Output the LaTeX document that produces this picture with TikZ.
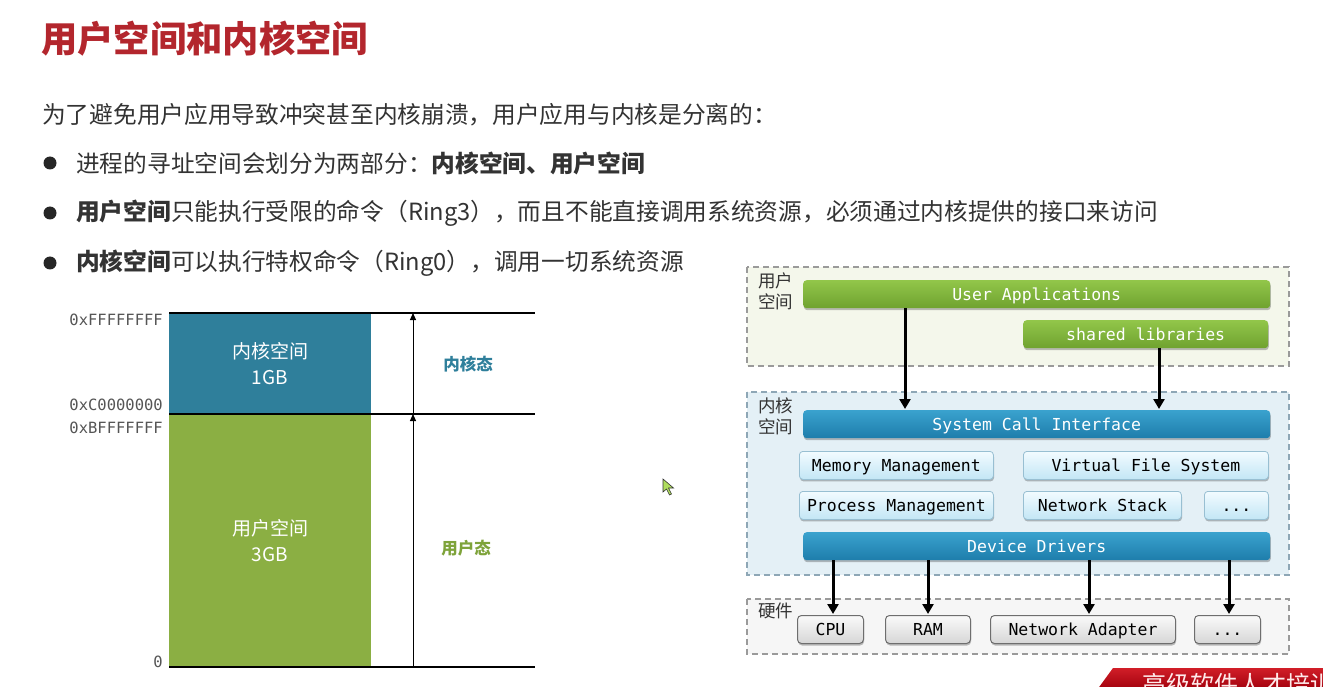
\documentclass[tikz,border=0pt]{standalone}
\usepackage{fontspec}
\setmainfont{Noto Sans CJK SC}
\newfontfamily\monofont{DejaVu Sans Mono}
\usetikzlibrary{arrows.meta,shadows}

\definecolor{titlered}{HTML}{B3262D}
\definecolor{bodytext}{HTML}{333333}
\definecolor{kteal}{HTML}{2F7F9B}
\definecolor{ugreen}{HTML}{8BAF43}
\definecolor{ulabel}{HTML}{7EA33A}
\definecolor{addrgray}{HTML}{555555}
\definecolor{userfill}{HTML}{F4F7EB}
\definecolor{kernfill}{HTML}{E4F0F6}
\definecolor{hwfill}{HTML}{F6F6F6}
\definecolor{dashgray}{HTML}{9A9A9A}
\definecolor{dashblue}{HTML}{8EA7B6}
\definecolor{gbarTop}{HTML}{92C64A}
\definecolor{gbarBot}{HTML}{6FA22F}
\definecolor{bbarTop}{HTML}{3AA2CE}
\definecolor{bbarBot}{HTML}{1E7DAB}
\definecolor{lbTop}{HTML}{F2FBFF}
\definecolor{lbBot}{HTML}{C3E6F5}
\definecolor{lbEdge}{HTML}{98BFD2}
\definecolor{grTop}{HTML}{FAFAFA}
\definecolor{grBot}{HTML}{D6D6D6}
\definecolor{grEdge}{HTML}{6E6E6E}
\definecolor{bannerTop}{HTML}{D11E28}
\definecolor{bannerBot}{HTML}{A0000C}

\tikzset{
  body/.style={inner sep=0pt, text=bodytext, font=\fontsize{23.7}{28}\selectfont},
  addr/.style={inner sep=0pt, anchor=east, text=addrgray, font=\monofont\fontsize{15.5}{16}\selectfont},
  blocktext/.style={inner sep=0pt, text=white, font=\fontsize{19}{22}\selectfont},
  region/.style={dashed, dash pattern=on 6pt off 4pt, line width=1.3pt},
  sidelabel/.style={inner sep=0pt, anchor=north west, align=left, text=bodytext,
    font=\fontsize{17.5}{21}\selectfont},
  softshadow/.style={drop shadow={shadow xshift=0.6pt, shadow yshift=-2pt, opacity=0.25, fill=black}},
  monolabel/.style={inner sep=0pt, text height=12pt, text depth=0pt,
    font=\monofont\fontsize{16.5}{17}\selectfont},
  greenbar/.style={monolabel, softshadow, rounded corners=3.5pt, top color=gbarTop, bottom color=gbarBot,
    anchor=north west, text=white},
  bluebar/.style={monolabel, softshadow, rounded corners=3.5pt, top color=bbarTop, bottom color=bbarBot,
    anchor=north west, text=white},
  lightbox/.style={monolabel, softshadow, rounded corners=3.5pt, top color=lbTop, bottom color=lbBot,
    draw=lbEdge, line width=0.8pt, anchor=north west, text=black},
  graybox/.style={monolabel, softshadow, rounded corners=4pt, top color=grTop, bottom color=grBot,
    draw=grEdge, line width=1pt, anchor=north west, text=black},
  callarrow/.style={line width=3pt, -{Triangle[width=11pt,length=10pt]}},
  spanarrow/.style={line width=1pt, -{Triangle[width=6pt,length=7pt]}},
  boundary/.style={line width=2pt, black}
}

\begin{document}
\begin{tikzpicture}[x=1pt,y=-1pt]
\useasboundingbox (0,0) rectangle (1323,687);
\clip (0,0) rectangle (1323,687);
\fill[white] (0,0) rectangle (1323,687);

% ---------- heading and bullet text ----------
\node[anchor=west, inner sep=0pt, text=titlered, font=\bfseries\fontsize{36.3}{40}\selectfont]
  (title) at (41,39) {用户空间和内核空间};

\node[body, anchor=west] (intro) at (42,115)
  {为了避免用户应用导致冲突甚至内核崩溃，用户应用与内核是分离的：};

\foreach \yy/\nm in {163/b1, 213/b2, 263/b3}
  \fill[black!85] (50,\yy) circle[radius=6.5] coordinate (\nm);

\node[body, anchor=west] (l1) at (76,163)
  {进程的寻址空间会划分为两部分：\textbf{内核空间、用户空间}};
\node[body, anchor=west] (l2) at (76,213)
  {\textbf{用户空间}只能执行受限的命令（Ring3），而且不能直接调用系统资源，必须通过内核提供的接口来访问};
\node[body, anchor=west] (l3) at (76,263)
  {\textbf{内核空间}可以执行特权命令（Ring0），调用一切系统资源};

% ---------- address space split ----------
\fill[kteal] (169,313) rectangle (371,414);
\fill[ugreen] (169,414) rectangle (371,667);
\draw[boundary] (169,313) coordinate (top) -- (535,313);
\draw[boundary] (169,414) coordinate (mid) -- (535,414);
\draw[boundary] (169,667) coordinate (bot) -- (535,667);

\node[blocktext] (ktext) at (270,351) {内核空间};
\node[blocktext] (kgb) at (270,378) {1GB};
\node[blocktext] (utext) at (270,528) {用户空间};
\node[blocktext] (ugb) at (270,555) {3GB};

\coordinate (ktop) at (413,313);
\coordinate (kmid) at (413,414);
\coordinate (kbot) at (413,667);
\draw[spanarrow] (kmid) -- (ktop);
\draw[spanarrow] (kbot) -- (kmid);

\node[inner sep=0pt, text=kteal, font=\bfseries\fontsize{16.5}{18}\selectfont] (kstate) at (468,364) {内核态};
\node[inner sep=0pt, text=ulabel, font=\bfseries\fontsize{16.5}{18}\selectfont] (ustate) at (466,548) {用户态};

\node[addr] (a1) at (163,320) {0xFFFFFFFF};
\node[addr] (a2) at (163,405) {0xC0000000};
\node[addr] (a3) at (163,428) {0xBFFFFFFF};
\node[addr] (a4) at (163,662) {0};

% ---------- mouse pointer ----------
\filldraw[fill=yellow!55!green!70, draw=black!80, line width=0.6pt]
  (663,479) -- (663,492) -- (666.5,489) -- (669.5,495) -- (671.5,494) -- (668.5,488) -- (673.5,488) -- cycle;

% ---------- layered system view ----------
\draw[region, draw=dashgray, fill=userfill] (747,267) rectangle (1289,366);
\draw[region, draw=dashblue, fill=kernfill] (747,392) rectangle (1289,575);
\draw[region, draw=dashgray, fill=hwfill] (747,599) rectangle (1289,654);

\node[sidelabel] (ulab) at (758,273) {用户\\空间};
\node[sidelabel] (klab) at (758,398) {内核\\空间};
\node[sidelabel] (hlab) at (758,603) {硬件};

\node[greenbar, minimum width=467pt, minimum height=28pt] (ua) at (803,280) {User Applications};
\node[greenbar, minimum width=245pt, minimum height=28pt] (sl) at (1023,320) {shared libraries};

\node[bluebar, minimum width=467pt, minimum height=28pt] (sci) at (803,410) {System Call Interface};
\node[lightbox, minimum width=194pt, minimum height=28pt] (mm) at (799,451) {Memory Management};
\node[lightbox, minimum width=245pt, minimum height=28pt] (vfs) at (1023,451) {Virtual File System};
\node[lightbox, minimum width=194pt, minimum height=28pt] (pm) at (799,491) {Process Management};
\node[lightbox, minimum width=158pt, minimum height=28pt] (ns) at (1023,491) {Network Stack};
\node[lightbox, minimum width=64pt, minimum height=28pt] (kmore) at (1204,491) {...};
\node[bluebar, minimum width=467pt, minimum height=28pt] (dd) at (803,532) {Device Drivers};

\node[graybox, minimum width=66pt, minimum height=28pt] (cpu) at (797,615) {CPU};
\node[graybox, minimum width=85pt, minimum height=28pt] (ram) at (885,615) {RAM};
\node[graybox, minimum width=185pt, minimum height=28pt] (nic) at (990,615) {Network Adapter};
\node[graybox, minimum width=66pt, minimum height=28pt] (hmore) at (1194,615) {...};

% connector columns
\coordinate (xua) at (905,0);
\coordinate (xsl) at (1159,0);
\coordinate (xcpu) at (833,0);
\coordinate (xram) at (928,0);
\coordinate (xnic) at (1089,0);
\coordinate (xmore) at (1229,0);

\draw[callarrow] (ua.south -| xua) -- ([yshift=1pt]sci.north -| xua);
\draw[callarrow] (sl.south -| xsl) -- ([yshift=1pt]sci.north -| xsl);
\draw[callarrow] (dd.south -| xcpu) -- ([yshift=1pt]cpu.north -| xcpu);
\draw[callarrow] (dd.south -| xram) -- ([yshift=1pt]ram.north -| xram);
\draw[callarrow] (dd.south -| xnic) -- ([yshift=1pt]nic.north -| xnic);
\draw[callarrow] (dd.south -| xmore) -- ([yshift=1pt]hmore.north -| xmore);

% ---------- corner banner ----------
\shade[top color=bannerTop, bottom color=bannerBot]
  (1097,690) -- (1113,668) -- (1330,668) -- (1330,690) -- cycle;
\node[anchor=base west, inner sep=0pt, text=white!92!red, font=\fontsize{24}{28}\selectfont]
  (banner) at (1142,693) {高级软件人才培训};
\end{tikzpicture}
\end{document}
